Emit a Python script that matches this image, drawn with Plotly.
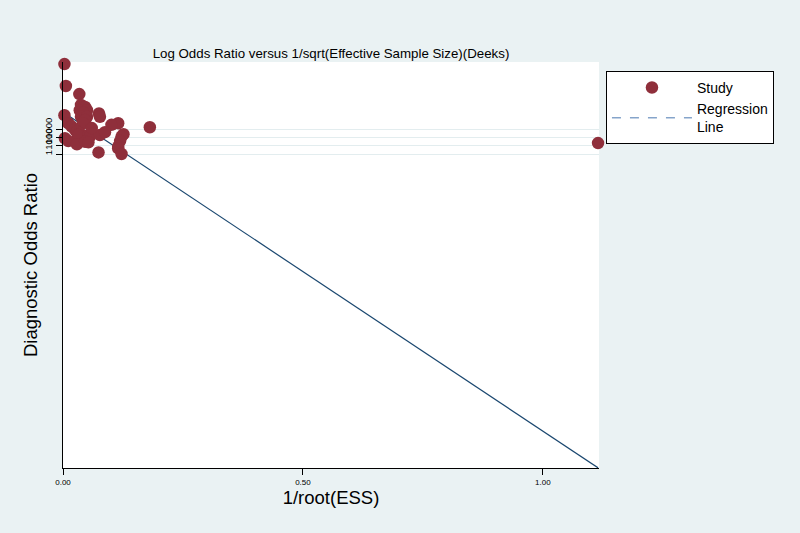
import plotly.graph_objects as go

# 1/sqrt(ESS) and log10(diagnostic odds ratio) per study
study_x = [0.003, 0.006, 0.034, 0.0375, 0.046, 0.035, 0.050, 0.042, 0.0375, 0.050,
           0.046, 0.042, 0.003, 0.075, 0.077, 0.011, 0.115, 0.101, 0.181, 0.018,
           0.025, 0.029, 0.035, 0.031, 0.053, 0.056, 0.077, 0.0875, 0.126, 0.122,
           0.004, 0.011, 0.029, 0.046, 0.053, 0.119, 0.115, 0.115, 0.074, 0.122,
           0.060, 1.115]
study_logdor = [11.1, 8.4, 7.4, 6.05, 5.8, 5.4, 5.4, 5.1, 4.6, 4.6,
                4.2, 3.8, 4.8, 5.0, 4.6, 3.8, 3.8, 3.6, 3.3, 3.4,
                3.0, 2.75, 2.6, 2.35, 2.35, 2.15, 2.35, 2.7, 2.45, 2.15,
                1.95, 1.6, 1.2, 1.5, 1.45, 1.6, 0.9, 0.7, 0.2, 0.0,
                3.2, 1.35]

# regression line (intercept, slope) in log10 units
reg_intercept = 5.18
reg_slope = -39.4
reg_x = [0.003, 1.115]
reg_y = [reg_intercept + reg_slope * v for v in reg_x]

tick_vals = [0, 1, 2, 3]
tick_text = ['1', '10', '100', '1000']

maroon = '#8f2f3b'
navy = '#1a476f'
bg = '#eaf2f3'

fig = go.Figure()

fig.add_trace(go.Scatter(
    x=reg_x, y=reg_y, mode='lines',
    line=dict(color=navy, width=1.2),
    showlegend=False, hoverinfo='skip'
))

fig.add_trace(go.Scatter(
    x=study_x, y=study_logdor, mode='markers',
    name='Study',
    marker=dict(color=maroon, size=12.5, line=dict(width=0)),
    cliponaxis=False
))

# legend-only entry for the dashed regression line
fig.add_trace(go.Scatter(
    x=[None], y=[None], mode='lines',
    name='Regression<br>Line',
    line=dict(color='#4a78b0', width=1, dash='dash')
))

fig.update_layout(
    width=800, height=533,
    paper_bgcolor=bg,
    plot_bgcolor='white',
    font=dict(family='Liberation Sans, Arial, sans-serif', color='black'),
    margin=dict(l=63, r=201, t=62, b=65),
    title=dict(
        text='Log Odds Ratio versus 1/sqrt(Effective Sample Size)(Deeks)',
        x=(63 + 599) / 2 / 800, xanchor='center',
        y=1 - 53 / 533, yanchor='middle',
        font=dict(size=13.3)
    ),
    legend=dict(
        x=1.013, y=0.978, xanchor='left', yanchor='top',
        bgcolor='white', bordercolor='black', borderwidth=1,
        font=dict(size=14),
        itemwidth=80,
        tracegroupgap=0
    ),
    xaxis=dict(
        range=[0, 1.117],
        tickvals=[0, 0.5, 1.0],
        ticktext=['0.00', '0.50', '1.00'],
        ticks='outside', ticklen=6, tickcolor='black',
        tickfont=dict(size=8),
        showgrid=False, zeroline=False,
        showline=True, linecolor='black', linewidth=1,
        title=dict(text='1/root(ESS)', font=dict(size=18.5), standoff=2)
    ),
    yaxis=dict(
        range=[-38.77, 11.36],
        tickvals=tick_vals, ticktext=tick_text,
        tickangle=-90,
        ticks='outside', ticklen=6, tickcolor='black',
        tickfont=dict(size=9.5),
        showgrid=True, gridcolor='#e3edef', gridwidth=1,
        zeroline=False,
        showline=True, linecolor='black', linewidth=1,
        title=dict(text='Diagnostic Odds Ratio', font=dict(size=18.5), standoff=0)
    )
)

fig.write_html(
    "out.html",
    config={'displayModeBar': False},
    post_script="document.body.style.margin='0';document.body.style.background='#eaf2f3';"
)
